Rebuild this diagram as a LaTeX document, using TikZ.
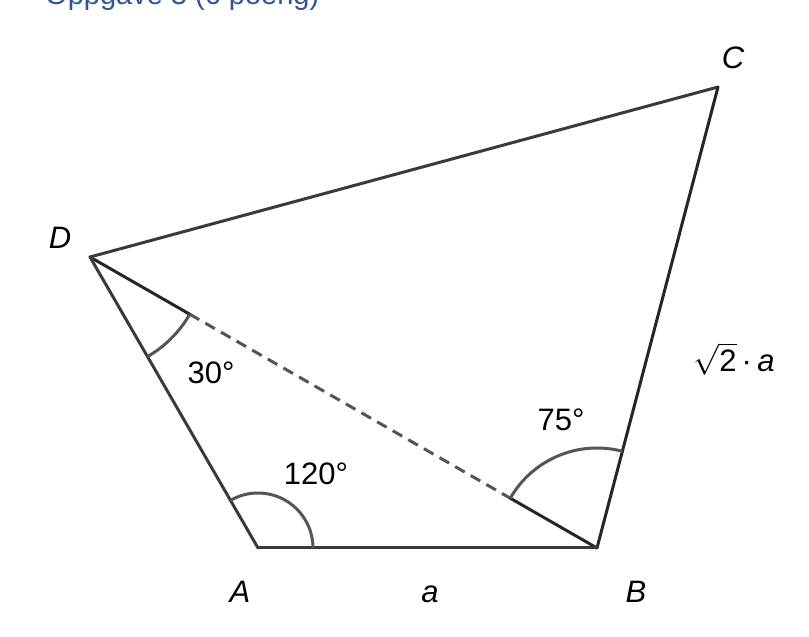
\RequirePackage{fix-cm}
\documentclass[tikz,border=0pt]{standalone}
\usepackage{fontspec}
\setmainfont{Liberation Sans}
\usetikzlibrary{calc,angles}
\definecolor{edgegray}{HTML}{3A3A3A}
\definecolor{arcgray}{HTML}{555555}
\definecolor{titleblue}{HTML}{2F5597}
\begin{document}
\begin{tikzpicture}[x=1pt,y=1pt,
  edge/.style={line width=3pt, draw=edgegray, line cap=round, line join=round},
  edgedark/.style={line width=3pt, draw=black!85, line cap=round, line join=round},
  dashedge/.style={line width=3pt, draw=arcgray, dash pattern=on 11pt off 7pt},
  arcstyle/.style={draw=arcgray, line width=3pt},
  lbl/.style={font=\fontsize{31}{36}\selectfont, inner sep=0pt, text=black},
  vlbl/.style={font=\fontsize{31}{36}\selectfont\itshape, inner sep=0pt, text=black},
  titlestyle/.style={font=\fontsize{29}{34}\selectfont, text=titleblue, inner sep=0pt}]
\useasboundingbox (0,0) rectangle (809,637);
\clip (0,0) rectangle (809,637);
\coordinate (A) at (258,89);
\coordinate (B) at (597,89);
\coordinate (C) at (718,550);
\coordinate (D) at (90,380);
\node[titlestyle, anchor=base west] (title) at (45,632) {Oppgave 3 (6 poeng)};
% dashed diagonal
\draw[dashedge] ($(D)!115pt!(B)$) -- ($(B)!100pt!(D)$);
\draw[edgedark] (D) -- ($(D)!115pt!(B)$);
\draw[edgedark] (B) -- ($(B)!100pt!(D)$);
% sides
\draw[edge] (D) -- (C);
\draw[edgedark] (C) -- (B);
\draw[edge] (A) -- (B);
\draw[edge] (D) -- (A);
% angles
\pic[arcstyle, angle radius=115pt] {angle=A--D--B};
\pic[arcstyle, angle radius=55pt] {angle=B--A--D};
\pic[arcstyle, angle radius=100pt] {angle=C--B--D};
% labels
\node[vlbl] (lC) at (733,579) {C};
\node[vlbl] (lD) at (60,399) {D};
\node[vlbl] (lA) at (240,45) {A};
\node[vlbl] (lB) at (636,45) {B};
\node[vlbl] (la) at (430,43) {a};
\node[lbl] (a30) at (211,264) {30°};
\node[lbl] (a120) at (316,163) {120°};
\node[lbl] (a75) at (561,217) {75°};
\node[lbl] (side) at (734,278) {$\sqrt{\hbox{2}}$\,·\,\textit{a}};
\end{tikzpicture}
\end{document}
